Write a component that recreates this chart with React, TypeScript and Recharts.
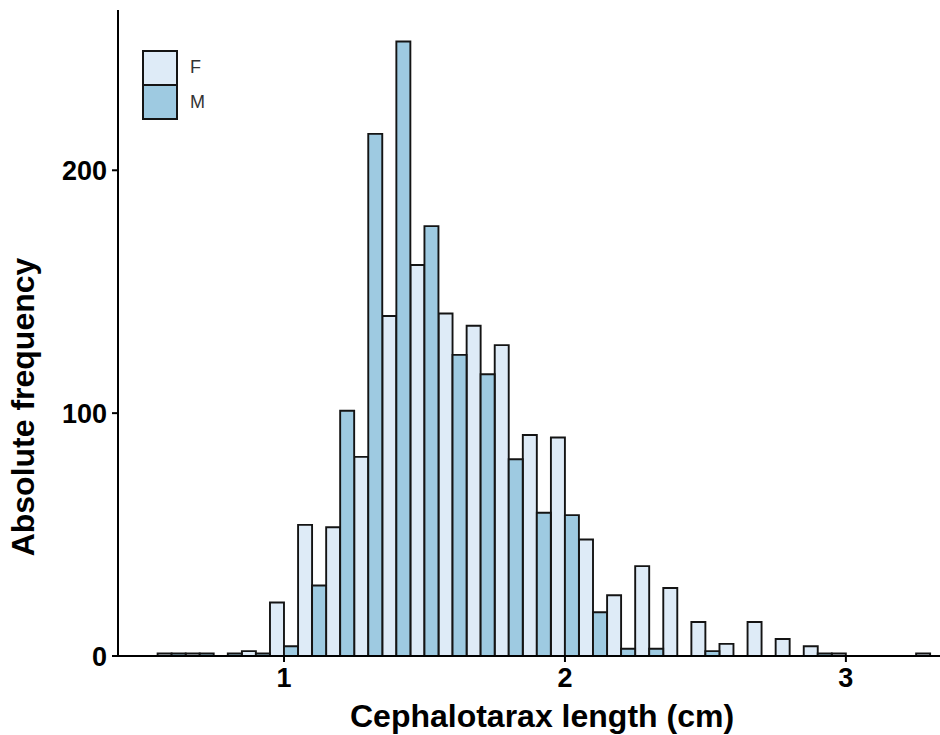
import React from "react";
import { BarChart, Bar, XAxis, YAxis, Legend, Label } from "recharts";

const bins = [0.6, 0.7, 0.8, 0.9, 1.0, 1.1, 1.2, 1.3, 1.4, 1.5, 1.6, 1.7, 1.8, 1.9, 2.0, 2.1, 2.2, 2.3, 2.4, 2.5, 2.6, 2.7, 2.8, 2.9, 3.0, 3.1, 3.2, 3.3];
const femaleCounts = [1, 1, 0, 2, 22, 54, 53, 82, 140, 161, 141, 136, 128, 91, 90, 48, 25, 37, 28, 14, 5, 14, 7, 4, 1, 0, 0, 1];
const maleCounts = [1, 1, 1, 1, 4, 29, 101, 215, 253, 177, 124, 116, 81, 59, 58, 18, 3, 3, 0, 2, 0, 0, 0, 1, 0, 0, 0, 0];
const xTicks = [1, 2, 3];
const yTicks = [0, 100, 200];
const seriesNames = ["F", "M"];

const data = bins.map((b, i) => ({ len: b, F: femaleCounts[i], M: maleCounts[i] }));

const FONT = "Arial, 'Liberation Sans', sans-serif";
const F_FILL = "#deebf7";
const M_FILL = "#9ecae1";
const STROKE = "#141414";

const LegendBox = () => (
  <div style={{ fontFamily: FONT }}>
    {seriesNames.map((n, i) => (
      <div key={n} style={{ display: "flex", alignItems: "center", height: 35 }}>
        <div
          style={{
            width: 32,
            height: 32,
            background: i === 0 ? F_FILL : M_FILL,
            border: `2px solid ${STROKE}`,
            marginTop: i === 0 ? 0 : -1,
          }}
        />
        <span style={{ marginLeft: 12, fontSize: 18, color: "#333" }}>{n}</span>
      </div>
    ))}
  </div>
);

const XTitle = (props: any) => {
  const vb = props.viewBox;
  return (
    <text
      x={vb.x + vb.width / 2 + 13}
      y={727}
      textAnchor="middle"
      fontFamily={FONT}
      fontWeight="bold"
      fontSize={32}
      fill="#000"
    >
      Cephalotarax length (cm)
    </text>
  );
};

const YTitle = () => (
  <text
    x={0}
    y={0}
    transform="translate(34 407) rotate(-90)"
    textAnchor="middle"
    fontFamily={FONT}
    fontWeight="bold"
    fontSize={32}
    fill="#000"
  >
    Absolute frequency
  </text>
);

export default function App() {
  return (
    <div style={{ position: "absolute", left: 0, top: 0, width: 940, height: 735, background: "#fff" }}>
      <BarChart
        width={940}
        height={735}
        data={data}
        margin={{ top: 10, right: 0, bottom: 0, left: 0 }}
        barCategoryGap={0}
        barGap={0}
      >
        <XAxis
          dataKey="len"
          type="number"
          domain={[0.409, 3.335]}
          allowDataOverflow
          ticks={xTicks}
          height={79}
          tickSize={6}
          tickMargin={6}
          axisLine={{ stroke: "#000", strokeWidth: 2 }}
          tickLine={{ stroke: "#000", strokeWidth: 2 }}
          tick={{ fill: "#000", fontSize: 27, fontWeight: "bold", fontFamily: FONT }}
        >
          <Label content={<XTitle />} />
        </XAxis>
        <YAxis
          type="number"
          domain={[0, 266]}
          allowDataOverflow
          ticks={yTicks}
          width={118}
          tickSize={6}
          tickMargin={5}
          axisLine={{ stroke: "#000", strokeWidth: 2 }}
          tickLine={{ stroke: "#000", strokeWidth: 2 }}
          tick={{ fill: "#000", fontSize: 27, fontWeight: "bold", fontFamily: FONT }}
        >
          <Label content={<YTitle />} />
        </YAxis>
        <Legend
          layout="horizontal"
          align="center"
          verticalAlign="middle"
          content={<LegendBox />}
          wrapperStyle={{ position: "absolute", left: 142, top: 50, width: 80 }}
        />
        <Bar dataKey="F" fill={F_FILL} stroke={STROKE} strokeWidth={1.9} isAnimationActive={false} />
        <Bar dataKey="M" fill={M_FILL} stroke={STROKE} strokeWidth={1.9} isAnimationActive={false} />
      </BarChart>
    </div>
  );
}
